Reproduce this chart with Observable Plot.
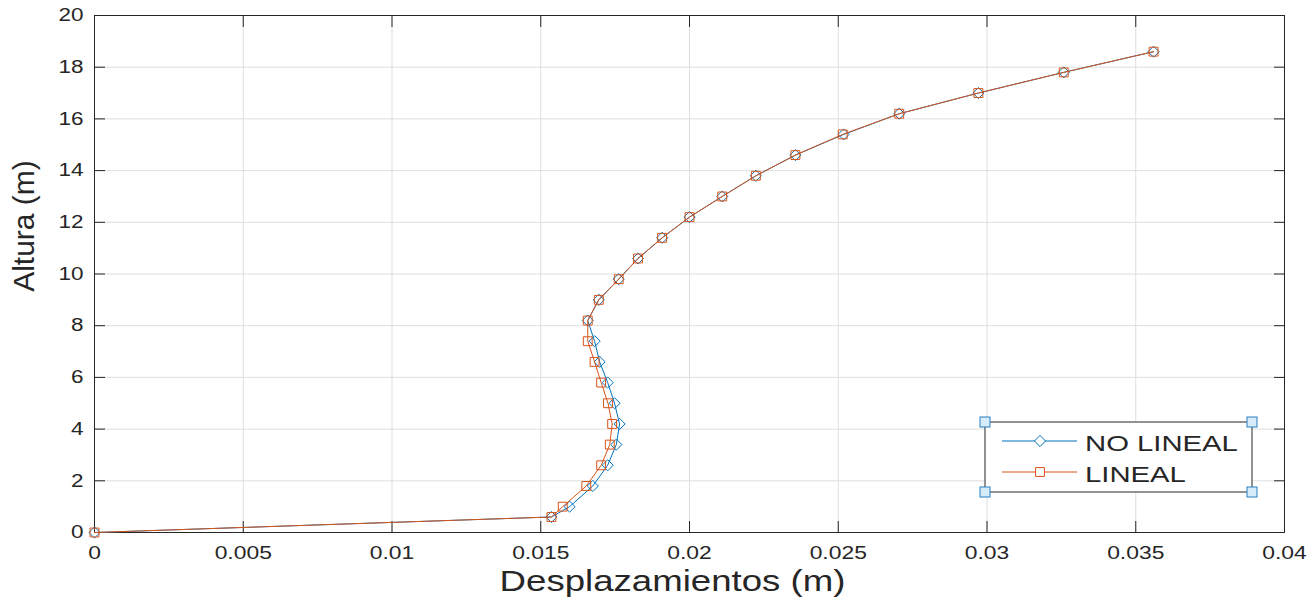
<!DOCTYPE html>
<html>
<head>
<meta charset="utf-8">
<script src="https://cdn.jsdelivr.net/npm/d3@7"></script>
<script src="https://cdn.jsdelivr.net/npm/@observablehq/plot@0.6"></script>
<style>
  html, body { margin: 0; padding: 0; background: #ffffff; }
  #chart { width: 1316px; height: 605px; overflow: hidden; }
</style>
</head>
<body>
<div id="chart"></div>
<script>
// ---- data ----
const heights = [0, 0.6, 1.0, 1.8, 2.6, 3.4, 4.2, 5.0, 5.8, 6.6, 7.4, 8.2, 9.0, 9.8, 10.6, 11.4, 12.2, 13.0, 13.8, 14.6, 15.4, 16.2, 17.0, 17.8, 18.6];
const noLineal = [0, 0.01536, 0.01597, 0.01675, 0.01725, 0.01754, 0.01765, 0.01748, 0.01725, 0.01698, 0.01681, 0.01658, 0.01695, 0.01762, 0.01827, 0.01908, 0.0200, 0.0211, 0.02223, 0.02356, 0.02518, 0.02705, 0.02971, 0.03258, 0.0356];
const lineal   = [0, 0.01536, 0.01574, 0.01653, 0.01703, 0.01732, 0.01740, 0.01726, 0.01703, 0.01681, 0.01658, 0.01658, 0.01695, 0.01762, 0.01827, 0.01908, 0.0200, 0.0211, 0.02223, 0.02356, 0.02515, 0.02705, 0.02971, 0.03258, 0.0356];
const seriesNames = ["NO LINEAL", "LINEAL"];
const seriesColors = ["#0072BD", "#D95319"];
const seriesSymbols = ["diamond2", "square"];
const xTicks = [0, 0.005, 0.01, 0.015, 0.02, 0.025, 0.03, 0.035, 0.04];
const xTickLabels = ["0", "0.005", "0.01", "0.015", "0.02", "0.025", "0.03", "0.035", "0.04"];
const yTicks = [0, 2, 4, 6, 8, 10, 12, 14, 16, 18, 20];
const yTickLabels = ["0", "2", "4", "6", "8", "10", "12", "14", "16", "18", "20"];
const xTitle = "Desplazamientos (m)";
const yTitle = "Altura (m)";

// ---- build table ----
const seriesValues = [noLineal, lineal];
const rows = [];
seriesNames.forEach((name, s) => {
  heights.forEach((h, i) => rows.push({series: name, x: seriesValues[s][i], y: h}));
});

const ink = "#262626";
const gridColor = "#dedede";
const tickLen = 11;
const fontFamily = "'Liberation Sans', Arial, sans-serif";

const marks = [
  Plot.gridX(xTicks, {stroke: gridColor, strokeOpacity: 1, strokeWidth: 1}),
  Plot.gridY(yTicks, {stroke: gridColor, strokeOpacity: 1, strokeWidth: 1}),
  // inward ticks on all four sides (outward ticks shifted inside the frame)
  Plot.axisX(xTicks, {anchor: "bottom", tickSize: tickLen, dy: -tickLen, text: null, stroke: ink, strokeOpacity: 1, label: null}),
  Plot.axisX(xTicks, {anchor: "top", tickSize: tickLen, dy: tickLen, text: null, stroke: ink, strokeOpacity: 1, label: null}),
  Plot.axisY(yTicks, {anchor: "left", tickSize: tickLen, dx: tickLen, text: null, stroke: ink, strokeOpacity: 1, label: null}),
  Plot.axisY(yTicks, {anchor: "right", tickSize: tickLen, dx: -tickLen, text: null, stroke: ink, strokeOpacity: 1, label: null}),
  // tick labels
  Plot.axisX(xTicks, {anchor: "bottom", tickSize: 0, tickPadding: 14, fontSize: 18, fill: ink, label: null,
    tickFormat: (d) => xTickLabels[xTicks.indexOf(d)]}),
  Plot.axisY(yTicks, {anchor: "left", tickSize: 0, tickPadding: 11, fontSize: 18, fill: ink, label: null,
    tickFormat: (d) => yTickLabels[yTicks.indexOf(d)]}),
  Plot.frame({stroke: ink, strokeWidth: 1})
];

seriesNames.forEach((name, s) => {
  const data = rows.filter(r => r.series === name);
  marks.push(Plot.line(data, {x: "x", y: "y", stroke: seriesColors[s], strokeWidth: 1}));
  marks.push(Plot.dot(data, {x: "x", y: "y", stroke: seriesColors[s], symbol: seriesSymbols[s], r: 5, strokeWidth: 1, fill: "none"}));
});

marks.push(Plot.text([xTitle], {frameAnchor: "bottom", dx: -17, dy: 58, fontSize: 30, fill: ink}));
marks.push(Plot.text([yTitle], {frameAnchor: "left", textAnchor: "middle", rotate: -90, dx: -70, dy: -48, fontSize: 30, fill: ink}));

const svg = Plot.plot({
  width: 1316,
  height: 605,
  marginLeft: 94,
  marginRight: 32,
  marginTop: 15,
  marginBottom: 73,
  x: {domain: [0, 0.04], axis: null},
  y: {domain: [0, 20], axis: null},
  style: {fontFamily, color: ink, background: "#ffffff"},
  marks
});

// legend (MATLAB style box with selection handles)
const lg = d3.select(svg).append("g").attr("aria-label", "legend").attr("text-anchor", "start");
const bx = 985, by = 422, bw = 267, bh = 70;
lg.append("rect").attr("x", bx).attr("y", by).attr("width", bw).attr("height", bh)
  .attr("fill", "#ffffff").attr("stroke", ink).attr("stroke-width", 1);
seriesNames.forEach((name, s) => {
  const cy = by + 19 + s * 31;
  lg.append("line").attr("x1", bx + 17).attr("x2", bx + 92).attr("y1", cy).attr("y2", cy)
    .attr("stroke", seriesColors[s]).attr("stroke-width", 1);
  const sym = s === 0 ? d3.symbolDiamond2 : d3.symbolSquare;
  lg.append("path").attr("d", d3.symbol(sym, Math.PI * 25)())
    .attr("transform", `translate(${bx + 55},${cy})`)
    .attr("fill", "#ffffff").attr("stroke", seriesColors[s]).attr("stroke-width", 1);
  lg.append("text").attr("class", "legend-text")
    .attr("x", bx + 100).attr("y", cy + 2)
    .attr("dy", "0.35em").attr("text-anchor", "start")
    .attr("font-size", 22).attr("fill", ink).attr("font-family", fontFamily)
    .text(name);
});
[[bx, by], [bx + bw, by], [bx, by + bh], [bx + bw, by + bh]].forEach(([hx, hy]) => {
  lg.append("rect").attr("x", hx - 5).attr("y", hy - 5).attr("width", 10).attr("height", 10)
    .attr("fill", "#d6ecfa").attr("stroke", "#2b7fc0").attr("stroke-width", 1);
});

document.getElementById("chart").append(svg);

// horizontal stretch of the text, as in the reference image
function stretchText(nodes, k) {
  nodes.forEach((el) => {
    const L = el.getComputedTextLength();
    if (L > 0) {
      el.setAttribute("textLength", (L * k).toFixed(1));
      el.setAttribute("lengthAdjust", "spacingAndGlyphs");
    }
  });
}
const allText = Array.from(svg.querySelectorAll("text"));
stretchText(Array.from(svg.querySelectorAll("g[aria-label='x-axis tick label'] text")), 1.27);
stretchText(Array.from(svg.querySelectorAll("g[aria-label='y-axis tick label'] text")), 1.25);
stretchText(allText.filter(t => t.textContent === xTitle), 1.22);
stretchText(Array.from(svg.querySelectorAll("text.legend-text")), 1.33);
</script>
</body>
</html>
